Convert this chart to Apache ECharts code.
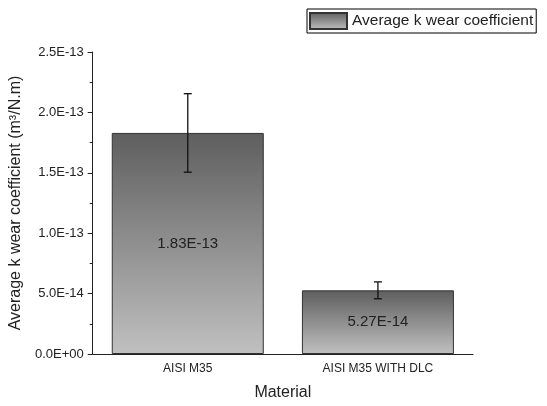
<!DOCTYPE html>
<html>
<head>
<meta charset="utf-8">
<script src="https://cdn.jsdelivr.net/npm/echarts@6/dist/echarts.min.js"></script>
<style>html,body{margin:0;padding:0;background:#fff}#c{width:547px;height:406px}</style>
</head>
<body>
<div id="c"></div>
<script>
const categories = ['AISI M35', 'AISI M35 WITH DLC'];
const values = [1.83e-13, 5.27e-14];
const errors = [3.25e-14, 7e-15];
const yTicks = { min: 0, max: 2.5e-13, interval: 5e-14 };
const seriesName = 'Average k wear coefficient';

function sci(v, d) {
  const s = v.toExponential(d).split('e');
  let exp = s[1];
  const sign = exp[0] === '-' ? '-' : '+';
  exp = exp.replace(/^[+-]/, '');
  if (exp.length < 2) exp = '0' + exp;
  return s[0] + 'E' + sign + exp;
}

const font = 'Liberation Sans, Arial, sans-serif';
const txt = '#222';
const chart = echarts.init(document.getElementById('c'));
const grad = new echarts.graphic.LinearGradient(0, 0, 0, 1, [
  { offset: 0, color: '#5e5e5e' },
  { offset: 1, color: '#c0c0c0' }
]);

chart.setOption({
  animation: false,
  backgroundColor: '#fff',
  textStyle: { fontFamily: font },
  legend: {
    data: [seriesName],
    left: 307, top: 9,
    icon: 'rect',
    itemWidth: 37, itemHeight: 16,
    borderColor: '#000', borderWidth: 1,
    padding: [3, 3, 3, 2],
    textStyle: { fontSize: 15.5, color: txt, fontFamily: font }
  },
  grid: { left: 91, right: 74, top: 52, bottom: 48, containLabel: false },
  xAxis: [{
    type: 'category',
    data: categories,
    name: 'Material',
    nameLocation: 'middle',
    nameGap: 31,
    nameTextStyle: { fontSize: 16, color: txt, fontFamily: font },
    axisLine: { lineStyle: { color: '#222', width: 1 } },
    axisTick: { alignWithLabel: true, length: 5, lineStyle: { color: '#222' } },
    axisLabel: { fontSize: 12, color: txt, margin: 9, fontFamily: font }
  }, {
    type: 'category',
    data: categories,
    position: 'bottom',
    axisLine: { show: false },
    axisTick: { length: 3, lineStyle: { color: '#222' } },
    axisLabel: { show: false }
  }],
  yAxis: {
    type: 'value',
    min: yTicks.min, max: yTicks.max, interval: yTicks.interval,
    name: 'Average k wear coefficient (m³/N.m)',
    nameLocation: 'middle',
    nameGap: 58,
    nameTextStyle: { fontSize: 16, color: txt, fontFamily: font },
    axisLine: { show: true, lineStyle: { color: '#222', width: 1 } },
    axisTick: { show: true, length: 5, lineStyle: { color: '#222' } },
    minorTick: { show: true, splitNumber: 2, length: 3, lineStyle: { color: '#222' } },
    splitLine: { show: false },
    axisLabel: { fontSize: 13, color: txt, margin: 9, fontFamily: font, formatter: v => sci(v, 1) }
  },
  series: [{
    name: seriesName,
    type: 'bar',
    data: values,
    barWidth: 152,
    itemStyle: { color: grad, borderColor: '#333', borderWidth: 1 },
    label: {
      show: true, position: 'inside',
      fontSize: 15, color: txt, fontFamily: font,
      formatter: p => sci(p.value, 2)
    }
  }, {
    name: 'err',
    type: 'custom',
    data: values.map((v, i) => [i, v, errors[i]]),
    z: 5,
    renderItem: function (params, api) {
      const x = api.value(0), v = api.value(1), e = api.value(2);
      const hi = api.coord([x, v + e]);
      const lo = api.coord([x, v - e]);
      const w = 4;
      const st = { stroke: '#111', lineWidth: 1.3 };
      return {
        type: 'group',
        children: [
          { type: 'line', shape: { x1: hi[0], y1: hi[1], x2: lo[0], y2: lo[1] }, style: st },
          { type: 'line', shape: { x1: hi[0] - w, y1: hi[1], x2: hi[0] + w, y2: hi[1] }, style: st },
          { type: 'line', shape: { x1: lo[0] - w, y1: lo[1], x2: lo[0] + w, y2: lo[1] }, style: st }
        ]
      };
    }
  }]
});
</script>
</body>
</html>
